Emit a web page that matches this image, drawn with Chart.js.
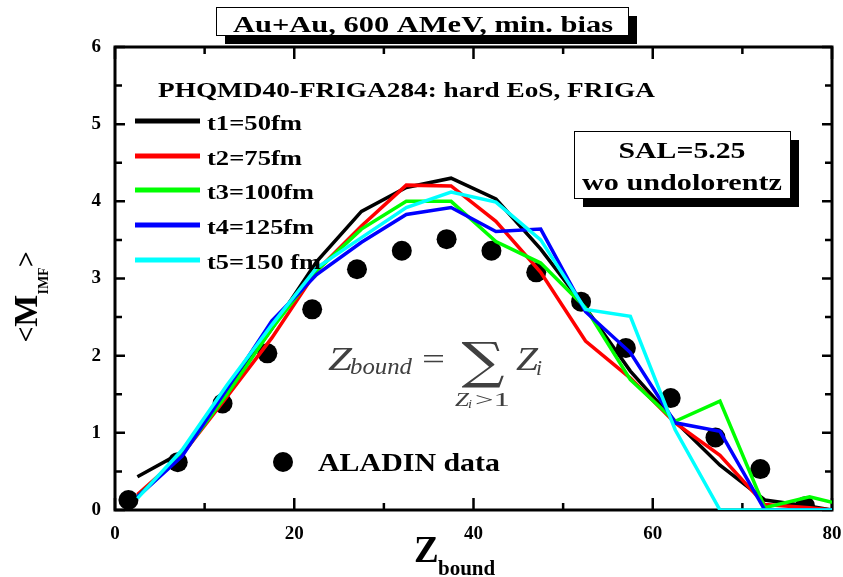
<!DOCTYPE html>
<html>
<head>
<meta charset="utf-8">
<script src="https://cdn.jsdelivr.net/npm/chart.js@4"></script>
<style>
  body { margin: 0; background: #fff; }
  canvas { display: block; }
</style>
</head>
<body>
<canvas id="imf-chart" width="843" height="577"></canvas>
<script>
const ctx = document.getElementById('imf-chart')

// model points (PHQMD), Z_bound bins
const zModel = [2.5, 7.5, 12.5, 17.5, 22.5, 27.5, 32.5, 37.5, 42.5, 47.5, 52.5, 57.5, 62.5, 67.5, 72.5, 77.5, 80]
const t1 = [0.43, 0.75, 1.55, 2.35, 3.22, 3.87, 4.18, 4.30, 4.03, 3.38, 2.62, 1.80, 1.15, 0.58, 0.13, 0.05, 0.0]
const t2 = [0.20, 0.72, 1.47, 2.23, 3.10, 3.68, 4.21, 4.20, 3.74, 3.08, 2.19, 1.71, 1.13, 0.71, 0.07, 0.03, 0.0]
const t3 = [0.17, 0.72, 1.50, 2.35, 3.10, 3.64, 4.00, 4.00, 3.48, 3.20, 2.62, 1.69, 1.15, 1.41, 0.03, 0.17, 0.10]
const t4 = [0.17, 0.70, 1.57, 2.45, 3.05, 3.47, 3.83, 3.92, 3.61, 3.64, 2.57, 2.04, 1.13, 1.02, 0.0, 0.0, 0.0]
const t5 = [0.15, 0.78, 1.62, 2.40, 3.14, 3.53, 3.92, 4.12, 3.99, 3.50, 2.60, 2.51, 1.04, 0.0, 0.0, 0.0, 0.0]
const modelLabels = ['t1=50fm', 't2=75fm', 't3=100fm', 't4=125fm', 't5=150 fm']
const modelColors = ['#000000', '#ff0000', '#00ff00', '#0000ff', '#00ffff']

// ALADIN data
const zData = [1.5, 7, 12, 17, 22, 27, 32, 37, 42, 47, 52, 57, 62, 67, 72, 77]
const mData = [0.13, 0.62, 1.38, 2.03, 2.60, 3.12, 3.36, 3.51, 3.36, 3.08, 2.70, 2.10, 1.45, 0.94, 0.53, 0.05]

const xTicks = [0, 20, 40, 60, 80]
const yTicks = [0, 1, 2, 3, 4, 5, 6]

const serif = "'Liberation Serif', 'Times New Roman', serif"

function toPoints(xs, ys) {
  return xs.map((x, i) => ({ x: x, y: ys[i] }))
}

// text squeezed/stretched to a given width, like the scanned figure
function stretchText(c, s, x, y, font, width, align) {
  c.save()
  c.font = font
  const w = c.measureText(s).width
  const k = width ? width / w : 1
  c.translate(x, y)
  c.scale(k, 1)
  c.textAlign = align || 'left'
  c.textBaseline = 'alphabetic'
  c.fillText(s, 0, 0)
  c.restore()
}

function shadowBox(c, x, y, w, h, off) {
  c.save()
  c.fillStyle = '#000'
  c.fillRect(x + off, y + off, w, h)
  c.fillStyle = '#fff'
  c.fillRect(x, y, w, h)
  c.strokeStyle = '#000'
  c.lineWidth = 1
  c.strokeRect(x + 0.5, y + 0.5, w, h)
  c.restore()
}

const framePlugin = {
  id: 'frame',
  beforeDatasetsDraw(chart) {
    const c = chart.ctx
    const a = chart.chartArea
    const xs = chart.scales.x
    const ys = chart.scales.y
    c.save()
    c.strokeStyle = '#000'
    c.lineWidth = 3
    c.strokeRect(a.left, a.top, a.right - a.left, a.bottom - a.top)
    c.lineWidth = 2.5
    c.beginPath()
    for (let v = 0; v <= 80; v += 10) {
      const px = xs.getPixelForValue(v)
      const len = v % 20 === 0 ? 12 : 7
      c.moveTo(px, a.bottom); c.lineTo(px, a.bottom - len)
      c.moveTo(px, a.top); c.lineTo(px, a.top + len)
    }
    for (let v = 0; v <= 6; v += 0.5) {
      const py = ys.getPixelForValue(v)
      const len = Number.isInteger(v) ? 10 : 7
      c.moveTo(a.left, py); c.lineTo(a.left + len, py)
      c.moveTo(a.right, py); c.lineTo(a.right - len, py)
    }
    c.stroke()
    c.restore()
  },
  afterDraw(chart) {
    const c = chart.ctx
    c.save()
    c.fillStyle = '#000'

    // title box
    shadowBox(c, 216, 7, 412, 28, 9)
    stretchText(c, 'Au+Au, 600 AMeV, min. bias', 423, 32, 'bold 23px ' + serif, 380, 'center')

    stretchText(c, 'PHQMD40-FRIGA284: hard EoS, FRIGA', 158, 97, 'bold 21px ' + serif, 497)

    // legend for the model curves
    const ds = chart.data.datasets
    const rows = [121, 156, 190, 225, 260]
    for (let i = 0; i < 5; i++) {
      c.strokeStyle = ds[i].borderColor
      c.lineWidth = 5
      c.beginPath()
      c.moveTo(135, rows[i]); c.lineTo(200, rows[i])
      c.stroke()
      c.fillStyle = '#000'
      const w = [95, 95, 107, 107, 114][i]
      stretchText(c, ds[i].label, 207, rows[i] + 9, 'bold 20px ' + serif, w)
    }

    // SAL box
    shadowBox(c, 574, 131, 216, 67, 9)
    c.fillStyle = '#000'
    stretchText(c, 'SAL=5.25', 682, 158, 'bold 23px ' + serif, 127, 'center')
    stretchText(c, 'wo undolorentz', 682, 190, 'bold 23px ' + serif, 200, 'center')

    // ALADIN legend entry
    c.beginPath()
    c.arc(283, 462, 10, 0, Math.PI * 2)
    c.fill()
    stretchText(c, ds[5].label, 318, 471, 'bold 25px ' + serif, 182)

    // formula  Z_bound = sum_{Z_i>1} Z_i
    c.fillStyle = '#404040'
    stretchText(c, 'Z', 328, 370, 'italic 33px ' + serif, 24)
    stretchText(c, 'bound', 350, 374, 'italic 24px ' + serif, 62)
    stretchText(c, '=', 422, 369, '30px ' + serif, 23)
    stretchText(c, '\u2211', 483, 378, "50px 'DejaVu Serif'", 43, 'center')
    stretchText(c, 'Z', 516, 370, 'italic 33px ' + serif, 22)
    stretchText(c, 'i', 536, 375, 'italic 20px ' + serif, 6)
    stretchText(c, 'Z', 455, 406, 'italic 19px ' + serif, 14)
    stretchText(c, 'i', 468, 408, 'italic 13px ' + serif, 4)
    stretchText(c, '>1', 475, 406, '19px ' + serif, 35)

    // axis titles
    c.fillStyle = '#000'
    c.font = 'bold 37px ' + serif
    c.fillText('Z', 414, 562)
    c.font = 'bold 21px ' + serif
    c.fillText('bound', 438, 575)

    c.save()
    c.translate(37, 297)
    c.rotate(-Math.PI / 2)
    c.font = 'bold 28px ' + serif
    const w1 = c.measureText('<').width
    c.font = 'bold 34px ' + serif
    const w2 = c.measureText('M').width
    c.font = 'bold 14px ' + serif
    const w3 = c.measureText('IMF').width
    c.font = 'bold 28px ' + serif
    const w4 = c.measureText('>').width
    let px = -(w1 + w2 + w3 + w4) / 2
    c.font = 'bold 28px ' + serif
    c.fillText('<', px, -2); px += w1
    c.font = 'bold 34px ' + serif
    c.fillText('M', px, 0); px += w2
    c.font = 'bold 14px ' + serif
    c.fillText('IMF', px, 11); px += w3
    c.font = 'bold 28px ' + serif
    c.fillText('>', px, -2)
    c.restore()

    c.restore()
  }
}

const lineSets = [t1, t2, t3, t4, t5].map((ys, i) => ({
  label: modelLabels[i],
  data: toPoints(zModel, ys),
  showLine: true,
  borderColor: modelColors[i],
  backgroundColor: modelColors[i],
  borderWidth: 3.5,
  pointRadius: 0,
  tension: 0,
  order: 5 - i
}))

const imfChart = new Chart(ctx, {
  type: 'scatter',
  data: {
    datasets: [...lineSets, {
      label: 'ALADIN data',
      data: toPoints(zData, mData),
      showLine: false,
      pointRadius: 10,
      pointStyle: 'circle',
      backgroundColor: '#000',
      borderColor: '#000',
      borderWidth: 0,
      order: 6
    }]
  },
  options: {
    responsive: false,
    animation: false,
    layout: { padding: { top: 47, right: 0, left: 0, bottom: 0 } },
    plugins: {
      legend: { display: false },
      tooltip: { enabled: false }
    },
    scales: {
      x: {
        type: 'linear',
        min: 0,
        max: 80,
        afterFit: (s) => { s.height = 67; s.paddingRight = 11 },
        afterBuildTicks: (s) => { s.ticks = xTicks.map(v => ({ value: v })) },
        ticks: {
          color: '#000',
          padding: 13,
          font: { family: serif, size: 19, weight: 'bold' }
        },
        grid: { display: false, drawTicks: false },
        border: { display: false }
      },
      y: {
        type: 'linear',
        min: 0,
        max: 6,
        afterFit: (s) => { s.width = 115 },
        afterBuildTicks: (s) => { s.ticks = yTicks.map(v => ({ value: v })) },
        ticks: {
          color: '#000',
          padding: 14,
          font: { family: serif, size: 19, weight: 'bold' }
        },
        grid: { display: false, drawTicks: false },
        border: { display: false }
      }
    }
  },
  plugins: [framePlugin]
})
</script>
</body>
</html>
